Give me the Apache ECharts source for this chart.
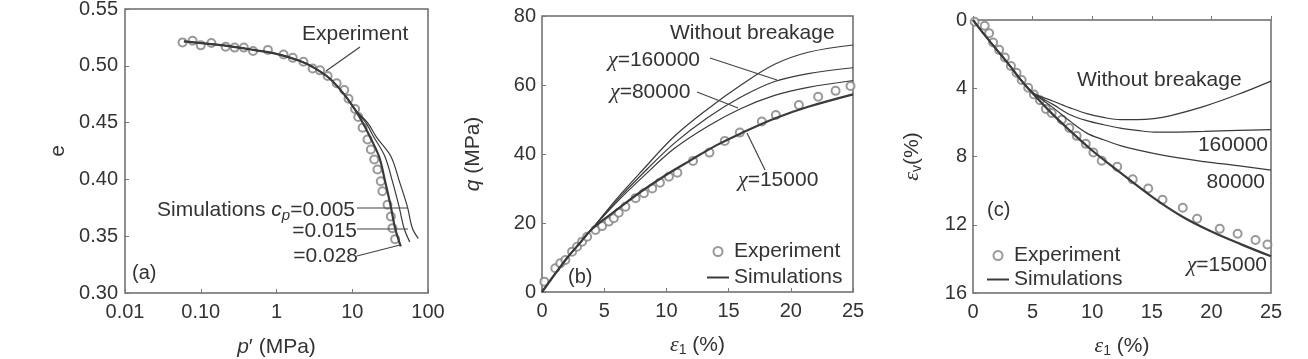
<!DOCTYPE html>
<html>
<head>
<meta charset="utf-8">
<script src="https://cdn.jsdelivr.net/npm/echarts@6/dist/echarts.min.js"></script>
<style>
html,body{margin:0;padding:0;background:#fff;}
#c{width:1308px;height:359px;}
</style>
</head>
<body>
<div id="c"></div>
<script>
// ---------- Panel (a): e vs p' (log) ----------
const ticksAx = ['0.01', '0.10', '1', '10', '100'];
const pA_exp = [0.0575,0.078,0.1,0.138,0.213,0.28,0.371,0.49,0.77,1.24,1.64,2.27,3.0,3.76,4.73,6.22,7.85,8.93,10.9,12.0,13.7,15.9,17.6,19.5,21.5,23.8,25.0,29.2,32.3,33.9,36.8];
const eA_exp = [0.5206,0.522,0.518,0.520,0.5167,0.516,0.516,0.513,0.514,0.510,0.507,0.5035,0.4976,0.496,0.491,0.4846,0.4787,0.471,0.462,0.455,0.4455,0.4352,0.4263,0.4175,0.4087,0.3983,0.3895,0.3777,0.3674,0.3571,0.3474];
const pA_cp028 = [0.06,0.1,0.2,0.5,1,2,3,5,8,11,14,17,22.6,27,32.3,36.8,43.7];
const eA_cp028 = [0.5215,0.520,0.518,0.514,0.5105,0.5045,0.499,0.489,0.474,0.461,0.449,0.438,0.420,0.399,0.376,0.357,0.341];
const pA_cp015 = [0.06,0.1,0.2,0.5,1,2,3,5,8,11,15.1,19,26.9,34,41.5,48.3,57.4];
const eA_cp015 = [0.5215,0.520,0.518,0.514,0.5105,0.5045,0.499,0.489,0.474,0.461,0.450,0.438,0.4204,0.398,0.376,0.357,0.345];
const pA_cp005 = [0.06,0.1,0.2,0.5,1,2,3,5,8,11,15.9,21,32.3,42,53.4,62.2,74.5];
const eA_cp005 = [0.5215,0.520,0.518,0.514,0.5105,0.5045,0.499,0.489,0.474,0.461,0.450,0.437,0.4204,0.398,0.376,0.357,0.348];

// ---------- Panel (b): q vs eps1 ----------
const epsB_exp = [0.19,1.07,1.47,1.88,2.42,2.82,3.22,3.63,4.3,4.83,5.37,5.77,6.17,6.71,7.52,8.19,8.86,9.48,10.2,10.88,12.14,13.46,14.69,15.9,17.67,18.8,20.65,22.2,23.6,24.8];
const qB_exp = [3.0,6.9,8.3,9.3,11.7,13.1,14.6,16.0,18.0,19.1,20.4,21.4,23.0,24.7,27.2,28.6,30.0,31.7,33.4,34.6,38.0,40.4,43.8,46.2,49.4,51.3,54.2,56.6,58.3,59.7];
const epsB_x15000 = [0,1,2,3,4,6,8,10,12,14,16,18.7,21.4,25];
const qB_x15000 = [0,5,9.8,14,18.2,23.8,29.2,34,38.3,42.5,46,50.3,53.7,57.3];
const epsB_x80000 = [0,1,2,3,4,6,8,10.6,13.3,16,18.7,21.4,25];
const qB_x80000 = [0,5,9.8,14,18.2,26,33,41.5,48,53.2,57,59.3,61.3];
const epsB_x160000 = [0,1,2,3,4,6,8,10.6,13.3,16,18.7,21.4,25];
const qB_x160000 = [0,5,9.8,14,18.2,26.5,34,43,50.5,56.5,61,63.3,65];
const epsB_nobreak = [0,1,2,3,4,6,8,10.6,13.3,16,18.7,21.4,25];
const qB_nobreak = [0,5,9.8,14,18.2,27,35,45,53,60,66,69.5,71.6];

// ---------- Panel (c): eps_v vs eps1 ----------
const epsC_exp = [0.14,0.98,1.35,1.69,2.19,2.67,3.18,3.65,4.08,4.63,5.11,5.62,6.12,6.6,7.45,8.08,8.7,9.46,10.1,10.8,12.1,13.4,14.7,15.9,17.6,18.8,20.7,22.2,23.7,24.7];
const evC_exp = [0.1,0.34,0.77,1.32,1.75,2.20,2.70,3.09,3.52,3.97,4.37,4.70,5.21,5.45,5.84,6.33,6.79,7.26,7.77,8.25,8.60,9.34,9.88,10.53,11.00,11.65,12.24,12.53,12.89,13.16];
const epsC_x15000 = [0,1,2,3,4,5,6.5,8,10,12,15,17.5,20,22.5,25];
const evC_x15000 = [0,0.9,1.75,2.6,3.5,4.3,5.4,6.4,7.65,8.75,10.35,11.5,12.4,13.15,13.85];
const epsC_x80000 = [0,1,2,3,4,5,6.74,8.15,9.55,10.95,12.36,13.77,16.6,19.4,22.2,25];
const evC_x80000 = [0,0.9,1.75,2.6,3.5,4.25,5.15,5.94,6.63,7.02,7.36,7.61,8.01,8.3,8.54,8.8];
const epsC_x160000 = [0,1,2,3,4,5,6.74,8.15,9.55,10.95,12.36,13.77,15.17,16.6,19.4,22.2,25];
const evC_x160000 = [0,0.9,1.75,2.6,3.5,4.25,4.96,5.55,5.9,6.14,6.34,6.47,6.57,6.57,6.53,6.47,6.43];
const epsC_nobreak = [0,1,2,3,4,5,6.74,8.15,9.55,10.95,12.36,13.77,15.17,16.6,19.4,22.2,25];
const evC_nobreak = [0,0.9,1.75,2.6,3.5,4.25,4.76,5.15,5.49,5.71,5.84,5.84,5.78,5.6,5.06,4.37,3.58];

const zip = (xs, ys) => xs.map((x, i) => [x, ys[i]]);

const SANS = '"Liberation Sans", Arial, sans-serif';
const SERIF = '"Liberation Serif", "Times New Roman", serif';
const TXT = '#333';
const LINE = '#3a3a3a';
const MARK = '#808080';

function axisCommon(extra) {
  return Object.assign({
    axisLine: { show: false },
    axisTick: { show: true, inside: true, length: 4, lineStyle: { color: '#777', width: 1 } },
    splitLine: { show: false },
    axisLabel: { fontSize: 20, color: TXT, fontFamily: SANS },
    nameTextStyle: { fontSize: 21, color: TXT, fontFamily: SANS,
      rich: {
        i: { fontSize: 21, fontStyle: 'italic', fontFamily: SANS, color: TXT },
        g: { fontSize: 22, fontStyle: 'italic', fontFamily: SERIF, color: TXT },
        s: { fontSize: 14, fontFamily: SANS, color: TXT, padding: [10, 0, 0, 0] }
      } },
    nameLocation: 'middle',
    nameMoveOverlap: false
  }, extra);
}

function scatter(name, xi, data) {
  return { name: name, type: 'scatter', xAxisIndex: xi, yAxisIndex: xi, data: data,
    symbol: 'emptyCircle', symbolSize: 8, z: 2,
    itemStyle: { color: MARK, borderWidth: 1.4 } };
}
function curve(name, xi, data, thick) {
  return { name: name, type: 'line', xAxisIndex: xi, yAxisIndex: xi, data: data,
    smooth: 0.35, showSymbol: false, symbol: 'none', z: 3,
    lineStyle: { color: LINE, width: thick ? 2.2 : 1.2 }, itemStyle: { color: LINE } };
}

function text(x, y, t, align, size, extraRich) {
  return { type: 'text', x: x, y: y, z: 20,
    style: { text: t, fill: TXT, font: (size || 21) + 'px ' + SANS, align: align || 'left', verticalAlign: 'middle',
      rich: Object.assign({
        g: { fontSize: (size || 21) + 1, fontStyle: 'italic', fontFamily: SERIF, fill: TXT },
        i: { fontSize: (size || 21), fontStyle: 'italic', fontFamily: SANS, fill: TXT },
        s: { fontSize: 15, fontStyle: 'italic', fontFamily: SANS, fill: TXT, padding: [12, 0, 0, 0] }
      }, extraRich || {}) } };
}
function seg(x1, y1, x2, y2) {
  return { type: 'line', z: 20, shape: { x1: x1, y1: y1, x2: x2, y2: y2 }, style: { stroke: '#444', lineWidth: 1.2 } };
}

function legendAt(left, top, gap) {
  return {
    left: left, top: top, orient: 'vertical', selectedMode: false, itemWidth: 22, itemHeight: 9, itemGap: gap,
    textStyle: { fontSize: 21, color: TXT, fontFamily: SANS },
    data: [
      { name: 'Experiment', icon: 'emptyCircle' },
      { name: 'Simulations', icon: 'path://M0,0H40V3.6H0Z' }
    ]
  };
}

function gridAt(left, top, width, height) {
  return { left: left, top: top, width: width, height: height, show: true,
    borderColor: '#6a6a6a', borderWidth: 1.5, containLabel: false, outerBoundsMode: 'none' };
}

const chart = echarts.init(document.getElementById('c'), null, { renderer: 'canvas' });
chart.setOption({
  backgroundColor: '#fff',
  animation: false,
  textStyle: { fontFamily: SANS },
  grid: [
    gridAt(125, 9, 303, 284),
    gridAt(542, 16, 311, 276),
    gridAt(973, 20, 298, 273)
  ],
  xAxis: [
    axisCommon({ gridIndex: 0, type: 'log', logBase: 10, min: 0.01, max: 100,
      axisLabel: { fontSize: 20, color: TXT, fontFamily: SANS, margin: 9,
        formatter: v => ticksAx[Math.round(Math.log10(v)) + 2] },
      name: '{i|p}′ (MPa)', nameGap: 44 }),
    axisCommon({ gridIndex: 1, type: 'value', min: 0, max: 25, interval: 5,
      axisLabel: { fontSize: 20, color: TXT, fontFamily: SANS, margin: 9 },
      name: '{g|ε}{s|1} (%)', nameGap: 41 }),
    axisCommon({ gridIndex: 2, type: 'value', min: 0, max: 25, interval: 5,
      axisLabel: { fontSize: 20, color: TXT, fontFamily: SANS, margin: 9 },
      name: '{g|ε}{s|1} (%)', nameGap: 41 })
  ],
  yAxis: [
    axisCommon({ gridIndex: 0, type: 'value', min: 0.30, max: 0.55, interval: 0.05,
      axisLabel: { fontSize: 20, color: TXT, fontFamily: SANS, margin: 7, formatter: v => v.toFixed(2) },
      name: 'e', nameRotate: 90, nameGap: 56 }),
    axisCommon({ gridIndex: 1, type: 'value', min: 0, max: 80, interval: 20,
      axisLabel: { fontSize: 20, color: TXT, fontFamily: SANS, margin: 6 },
      name: '{i|q} (MPa)', nameRotate: 90, nameGap: 58 }),
    axisCommon({ gridIndex: 2, type: 'value', min: 0, max: 16, interval: 4, inverse: true,
      axisLabel: { fontSize: 20, color: TXT, fontFamily: SANS, margin: 6 },
      name: '{g|ε}{s|v}(%)', nameRotate: 90, nameGap: 49 })
  ],
  legend: [legendAt(702, 236, 5), legendAt(982, 240, 3)],
  series: [
    scatter('Experiment', 0, zip(pA_exp, eA_exp)),
    curve('Simulations', 0, zip(pA_cp028, eA_cp028), true),
    curve('cp=0.015', 0, zip(pA_cp015, eA_cp015), false),
    curve('cp=0.005', 0, zip(pA_cp005, eA_cp005), false),

    scatter('Experiment', 1, zip(epsB_exp, qB_exp)),
    curve('Simulations', 1, zip(epsB_x15000, qB_x15000), true),
    curve('χ=80000', 1, zip(epsB_x80000, qB_x80000), false),
    curve('χ=160000', 1, zip(epsB_x160000, qB_x160000), false),
    curve('Without breakage', 1, zip(epsB_nobreak, qB_nobreak), false),

    scatter('Experiment', 2, zip(epsC_exp, evC_exp)),
    curve('Simulations', 2, zip(epsC_x15000, evC_x15000), true),
    curve('χ=80000 ', 2, zip(epsC_x80000, evC_x80000), false),
    curve('χ=160000 ', 2, zip(epsC_x160000, evC_x160000), false),
    curve('Without breakage ', 2, zip(epsC_nobreak, evC_nobreak), false)
  ],
  graphic: [
    // panel (a)
    text(302, 34, 'Experiment'),
    seg(360, 47, 326, 71),
    text(355, 210, 'Simulations {i|c}{s|p}=0.005', 'right'),
    seg(357, 208, 408, 208),
    text(357, 231, '=0.015', 'right'),
    seg(357, 229, 408, 229),
    text(358, 256, '=0.028', 'right'),
    seg(357, 256, 400, 245),
    text(132, 273, '(a)', 'left', 20),
    // panel (b)
    text(670, 33, 'Without breakage'),
    text(608, 60, '{g|χ}=160000'),
    seg(710, 58, 777, 80),
    text(610, 92, '{g|χ}=80000'),
    seg(697, 92, 738, 108),
    text(738, 180, '{g|χ}=15000'),
    seg(765, 170, 747, 133),
    text(568, 277, '(b)', 'left', 20),
    // panel (c)
    text(1077, 80, 'Without breakage'),
    text(1268, 145, '160000', 'right'),
    text(1265, 182, '80000', 'right'),
    text(1267, 265, '{g|χ}=15000', 'right'),
    text(987, 210, '(c)', 'left', 20)
  ]
});
</script>
</body>
</html>
